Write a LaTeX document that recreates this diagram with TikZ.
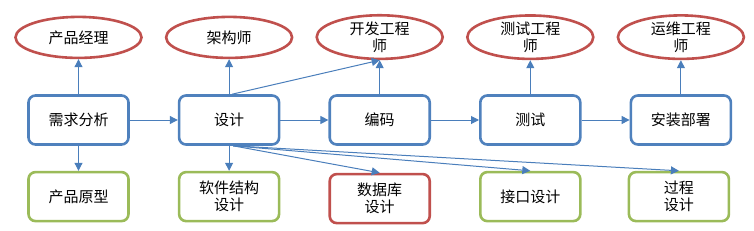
\documentclass[tikz,border=0pt]{standalone}
\usepackage{fontspec}
\setmainfont{Noto Sans CJK SC}
\usetikzlibrary{shapes.geometric, arrows.meta, positioning}
\definecolor{flowblue}{HTML}{4F81BD}
\definecolor{flowred}{HTML}{C0504D}
\definecolor{flowgreen}{HTML}{9BBB59}
\definecolor{flowline}{HTML}{4A7EBB}

\begin{document}
\begin{tikzpicture}[
    x=1pt, y=1pt,
    node distance=48pt,
    font=\fontsize{15}{17}\selectfont,
    stage/.style={rectangle, draw=flowblue, fill=white, line width=2.6pt, minimum width=100pt, minimum height=49pt, rounded corners=7pt, align=center, inner sep=0pt},
    role/.style={ellipse, draw=flowred, fill=white, line width=2.6pt, minimum width=126pt, minimum height=41pt, align=center, inner sep=0pt},
    output/.style={rectangle, draw=flowgreen, fill=white, line width=2.6pt, minimum width=100pt, minimum height=49pt, rounded corners=7pt, align=center, inner sep=0pt},
    dbout/.style={output, draw=flowred},
    arrow/.style={-{Triangle[length=8pt,width=8pt]}, line width=1pt, flowline}
]
\useasboundingbox (0,0) rectangle (754,-230);

% main flow
\node[stage] (req) at (78.5,-120) {需求分析};
\node[stage, right=of req] (design) {设计};
\node[stage, right=of design] (code) {编码};
\node[stage, right=of code] (test) {测试};
\node[stage, right=of test] (deploy) {安装部署};

% roles
\node[role, above=35pt of req] (pm) {产品经理};
\node[role, above=35pt of design] (arch) {架构师};
\node[role, above=35pt of code, yshift=-1pt] (dev) {开发工程\\师};
\node[role, above=35pt of test, yshift=-1pt] (qa) {测试工程\\师};
\node[role, above=35pt of deploy, yshift=-1pt] (ops) {运维工程\\师};

% outputs
\node[output, below=25pt of req] (proto) {产品原型};
\node[output, below=25pt of design] (struct) {软件结构\\设计};
\node[dbout, below=27pt of code] (db) {数据库\\设计};
\node[output, below=25pt of test] (iface) {接口设计};
\node[output, below=25pt of deploy, xshift=-2pt] (proc) {过程\\设计};

\draw[arrow] (req) -- (design);
\draw[arrow] (design) -- (code);
\draw[arrow] (code) -- (test);
\draw[arrow] (test) -- (deploy);

\draw[arrow] (req) -- (pm);
\draw[arrow] (design) -- (arch);
\coordinate (dtop) at ([xshift=3pt]design.north);
\draw[arrow] (dtop) -- (dev.south);
\draw[arrow] (code) -- (dev);
\draw[arrow] (test) -- (qa);
\draw[arrow] (deploy) -- (ops);

\draw[arrow] (req) -- (proto);
\draw[arrow] (design) -- (struct);
\coordinate (dbot) at ([xshift=4pt]design.south);
\draw[arrow] (dbot) -- (db.north);
\draw[arrow] (dbot) -- (iface.north);
\draw[arrow] (dbot) -- (proc.north);

\end{tikzpicture}
\end{document}
